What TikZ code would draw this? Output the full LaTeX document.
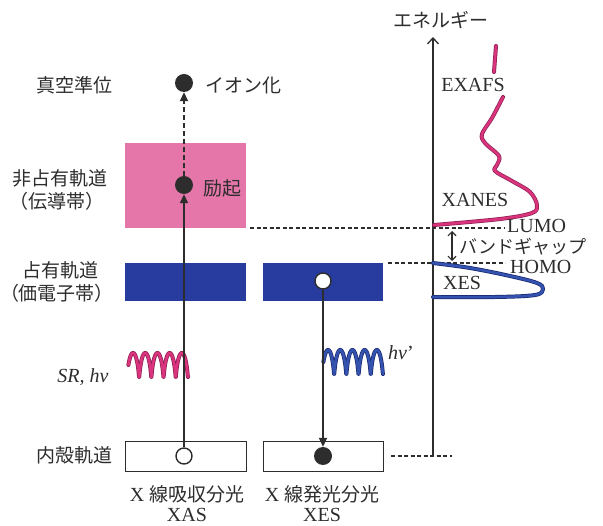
\documentclass[tikz,border=0pt]{standalone}
\usepackage{fontspec}
\setmainfont{Liberation Serif}
\newfontfamily\jp[Scale=0.95]{Noto Sans CJK JP}
\usetikzlibrary{arrows.meta}
\definecolor{pinkfill}{RGB}{229,118,170}
\definecolor{bluefill}{RGB}{40,60,160}
\definecolor{pinkline}{RGB}{218,52,126}
\definecolor{pinkedge}{RGB}{140,30,80}
\definecolor{blueline}{RGB}{52,82,176}
\definecolor{blueedge}{RGB}{25,40,110}
\definecolor{ink}{RGB}{45,45,45}
\begin{document}
\begin{tikzpicture}[x=1pt,y=-1pt, font=\fontsize{20}{24}\selectfont,
 band/.style={draw=none, inner sep=0pt, anchor=north west},
 lvlbox/.style={draw=ink, line width=1.4pt, fill=white, inner sep=0pt, anchor=north west},
 hole/.style={circle, draw=ink, line width=1.4pt, fill=white, minimum size=16pt, inner sep=0pt},
 elec/.style={circle, fill=ink, minimum size=18pt, inner sep=0pt},
 flow/.style={ink, line width=1.8pt, -{Triangle[length=9pt,width=8pt]}},
 guide/.style={ink, line width=1.1pt, dash pattern=on 4pt off 2.5pt},
 lbl/.style={inner sep=0pt, text=ink},
 pinkcurve/.style={pinkline, line width=2.6pt, line cap=round, line join=round, preaction={draw=pinkedge, line width=4pt, line cap=round, line join=round}},
 bluecurve/.style={blueline, line width=2.6pt, line cap=round, line join=round, preaction={draw=blueedge, line width=4pt, line cap=round, line join=round}},
]
\useasboundingbox (0,0) rectangle (603,526);
% bands and levels
\node[band, fill=pinkfill, minimum width=121pt, minimum height=85pt] (cb) at (125,143) {};
\node[band, fill=bluefill, minimum width=121pt, minimum height=38pt] (vb1) at (125,263) {};
\node[band, fill=bluefill, minimum width=120pt, minimum height=38pt] (vb2) at (263,263) {};
\node[lvlbox, minimum width=121pt, minimum height=30pt] (core1) at (125,441) {};
\node[lvlbox, minimum width=120pt, minimum height=30pt] (core2) at (263,441) {};
% waves
\draw[pinkcurve] plot[domain=0:1710, samples=300, variable=\t] ({130+\t/360*12.2-1.6*cos(\t)}, {365-12*sin(\t)});
\draw[bluecurve] plot[domain=0:1710, samples=300, variable=\t] ({325+\t/360*12.2-1.6*cos(\t)}, {362-12*sin(\t)});
% electrons and holes
\node[hole] (hole1) at (184,456) {};
\node[elec] (excite) at (184,185) {};
\node[elec] (ion) at (184,83) {};
\node[hole] (hole2) at (323,281) {};
\node[elec] (fill2) at (323,456) {};
\draw[flow] (hole1) -- (excite);
\draw[flow, dash pattern=on 5pt off 3pt] (excite) -- (ion);
\draw[flow] (hole2) -- (fill2);
% energy axis
\coordinate (axb) at (433,456);
\coordinate (axt) at (433,37);
\draw[ink, line width=1.3pt, -{Straight Barb[length=6pt,width=11pt]}] (axb) -- (axt);
% guide lines
\coordinate (l1) at (250,228); \coordinate (l2) at (505,228);
\coordinate (h1) at (388,263); \coordinate (h2) at (505,263);
\coordinate (c1) at (391,456); \coordinate (c2) at (452,456);
\draw[guide] (l1) -- (l2);
\draw[guide] (h1) -- (h2);
\draw[guide] (c1) -- (c2);
\coordinate (gtop) at (452,231); \coordinate (gbot) at (452,261);
\draw[ink, line width=1.1pt, {Straight Barb[length=4pt,width=8pt]}-{Straight Barb[length=4pt,width=8pt]}] (gtop) -- (gbot);
% spectra
\draw[pinkcurve] (496,46) -- (494,72);
\draw[pinkcurve] plot[smooth, tension=0.55] coordinates {(503,97) (492,118) (482,134) (485,143) (499,156) (497,165) (495,171) (512,181) (530,192) (537,205) (532,213) (500,219) (434,225)};
\draw[bluecurve] plot[smooth, tension=0.6] coordinates {(433,263) (470,268) (510,276) (537,283) (543,289) (535,295) (495,297) (433,297)};
% labels
\node[lbl] (vac) at (74,85) {\jp 真空準位};
\node[lbl] (unocc) at (60,178) {\jp 非占有軌道};
\node[lbl] (cband) at (57,201) {\jp （伝導帯）};
\node[lbl] (occ) at (61,270) {\jp 占有軌道};
\node[lbl] (vband) at (57,293) {\jp （価電子帯）};
\node[lbl] (sr) at (83,377) {\textit{SR, hv}};
\node[lbl] (core) at (74,455) {\jp 内殻軌道};
\node[lbl] (ionlbl) at (243,85) {\jp イオン化};
\node[lbl] (exlbl) at (222,188) {\jp 励起};
\node[lbl] (xas1) at (187,494) {X {\jp 線吸収分光}};
\node[lbl] (xas2) at (187,515) {XAS};
\node[lbl] (xes1) at (322,494) {X {\jp 線発光分光}};
\node[lbl] (xes2) at (322,515) {XES};
\node[lbl] (hvp) at (401,353) {\textit{hv}’};
\node[lbl] (energy) at (441,20) {\jp エネルギー};
\node[lbl] (exafs) at (473,85) {EXAFS};
\node[lbl] (xanes) at (475,200) {XANES};
\node[lbl] (xesl) at (462,283) {XES};
\node[lbl, anchor=west] (lumo) at (507,226) {LUMO};
\node[lbl, anchor=west] (homo) at (510,267) {HOMO};
\node[lbl, anchor=west, font=\fontsize{19}{22}\selectfont] (gap) at (459,247) {\jp バンドギャップ};
\end{tikzpicture}
\end{document}
